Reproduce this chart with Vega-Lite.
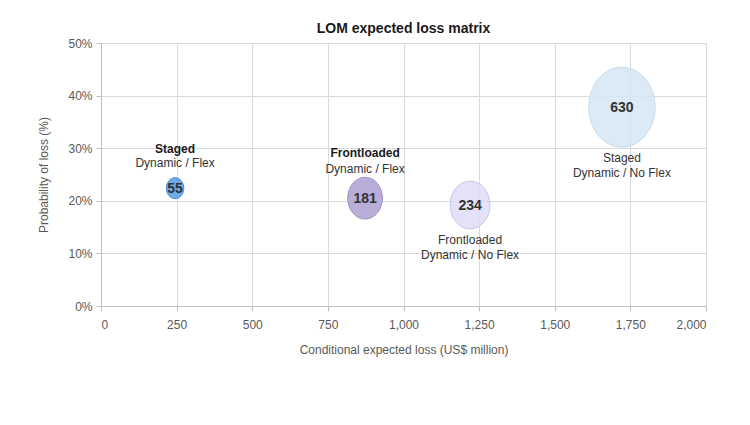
{
  "$schema": "https://vega.github.io/schema/vega-lite/v6.json",
  "width": 605,
  "height": 263,
  "autosize": {"type": "none"},
  "padding": {"left": 101, "top": 43, "right": 44, "bottom": 119},
  "background": "white",
  "config": {
    "font": "Liberation Sans",
    "view": {"stroke": null},
    "text": {"font": "Liberation Sans"}
  },
  "title": {
    "text": "LOM expected loss matrix",
    "fontSize": 14,
    "fontWeight": "bold",
    "color": "#1a1a1a",
    "font": "Liberation Sans",
    "anchor": "middle",
    "offset": 9,
    "dy": 8
  },
  "data": {
    "values": [
      {"strategy": "Staged", "variant": "Dynamic / Flex", "loss": 245, "prob": 0.224, "value": 55, "id": "Staged Dynamic / Flex"},
      {"strategy": "Frontloaded", "variant": "Dynamic / Flex", "loss": 873, "prob": 0.205, "value": 181, "id": "Frontloaded Dynamic / Flex"},
      {"strategy": "Frontloaded", "variant": "Dynamic / No Flex", "loss": 1220, "prob": 0.192, "value": 234, "id": "Frontloaded Dynamic / No Flex"},
      {"strategy": "Staged", "variant": "Dynamic / No Flex", "loss": 1722, "prob": 0.378, "value": 630, "id": "Staged Dynamic / No Flex"}
    ]
  },
  "encoding": {
    "x": {
      "field": "loss",
      "type": "quantitative",
      "scale": {"domain": [0, 2000], "nice": false},
      "axis": {
        "title": "Conditional expected loss (US$ million)",
        "values": [0, 250, 500, 750, 1000, 1250, 1500, 1750, 2000],
        "format": ",.0f",
        "labelFontSize": 12,
        "labelColor": "#595959",
        "labelFont": "Liberation Sans",
        "labelPadding": 8,
        "tickSize": 5,
        "tickColor": "#bfbfbf",
        "domainColor": "#bfbfbf",
        "gridColor": "#d9d9d9",
        "titleFontSize": 12,
        "titleFontWeight": "normal",
        "titleColor": "#595959",
        "titleFont": "Liberation Sans",
        "titleY": 43,
        "titleBaseline": "middle"
      }
    },
    "y": {
      "field": "prob",
      "type": "quantitative",
      "scale": {"domain": [0, 0.5], "nice": false},
      "axis": {
        "title": "Probability of loss (%)",
        "values": [0, 0.1, 0.2, 0.3, 0.4, 0.5],
        "format": ".0%",
        "labelFontSize": 12,
        "labelColor": "#595959",
        "labelFont": "Liberation Sans",
        "labelPadding": 4,
        "tickSize": 5,
        "tickColor": "#bfbfbf",
        "domainColor": "#bfbfbf",
        "gridColor": "#d9d9d9",
        "titleFontSize": 12,
        "titleFontWeight": "normal",
        "titleColor": "#595959",
        "titleFont": "Liberation Sans",
        "titleX": -58,
        "titleY": 131.5,
        "titleAlign": "center",
        "titleBaseline": "middle"
      }
    }
  },
  "layer": [
    {
      "mark": {
        "type": "point",
        "filled": true,
        "shape": "M 0 -1 C 0.458 -1 0.83 -0.552 0.83 0 C 0.83 0.552 0.458 1 0 1 C -0.458 1 -0.83 0.552 -0.83 0 C -0.83 -0.552 -0.458 -1 0 -1 Z",
        "opacity": 1,
        "fillOpacity": 0.85,
        "strokeOpacity": 1,
        "strokeWidth": 1
      },
      "encoding": {
        "size": {"field": "value", "type": "quantitative", "scale": {"domain": [55, 630], "range": [441, 6400], "zero": false}, "legend": null},
        "color": {
          "field": "id",
          "type": "nominal",
          "scale": {
            "domain": ["Staged Dynamic / Flex", "Frontloaded Dynamic / Flex", "Frontloaded Dynamic / No Flex", "Staged Dynamic / No Flex"],
            "range": ["#559be0", "#ad9fd2", "#e0dcf8", "#d6e6f5"]
          },
          "legend": null
        },
        "stroke": {
          "field": "id",
          "type": "nominal",
          "scale": {
            "domain": ["Staged Dynamic / Flex", "Frontloaded Dynamic / Flex", "Frontloaded Dynamic / No Flex", "Staged Dynamic / No Flex"],
            "range": ["#4a8cce", "#a193c8", "#cbc4ec", "#c6dbef"]
          },
          "legend": null
        }
      }
    },
    {
      "mark": {"type": "text", "fontSize": 14, "fontWeight": "bold", "color": "#333333", "baseline": "middle", "align": "center", "dy": 1},
      "encoding": {"text": {"field": "value", "type": "quantitative"}}
    },
    {
      "transform": [{"filter": "datum.value == 55"}],
      "mark": {"type": "text", "fontSize": 12, "fontWeight": "bold", "color": "#1a1a1a", "baseline": "middle", "align": "center", "dy": -39},
      "encoding": {"text": {"field": "strategy"}}
    },
    {
      "transform": [{"filter": "datum.value == 55"}],
      "mark": {"type": "text", "fontSize": 12, "color": "#333333", "baseline": "middle", "align": "center", "dy": -25},
      "encoding": {"text": {"field": "variant"}}
    },
    {
      "transform": [{"filter": "datum.value == 181"}],
      "mark": {"type": "text", "fontSize": 12, "fontWeight": "bold", "color": "#1a1a1a", "baseline": "middle", "align": "center", "dy": -45},
      "encoding": {"text": {"field": "strategy"}}
    },
    {
      "transform": [{"filter": "datum.value == 181"}],
      "mark": {"type": "text", "fontSize": 12, "color": "#333333", "baseline": "middle", "align": "center", "dy": -29},
      "encoding": {"text": {"field": "variant"}}
    },
    {
      "transform": [{"filter": "datum.value == 234"}],
      "mark": {"type": "text", "fontSize": 12, "color": "#333333", "baseline": "middle", "align": "center", "dy": 35},
      "encoding": {"text": {"field": "strategy"}}
    },
    {
      "transform": [{"filter": "datum.value == 234"}],
      "mark": {"type": "text", "fontSize": 12, "color": "#333333", "baseline": "middle", "align": "center", "dy": 50},
      "encoding": {"text": {"field": "variant"}}
    },
    {
      "transform": [{"filter": "datum.value == 630"}],
      "mark": {"type": "text", "fontSize": 12, "color": "#333333", "baseline": "middle", "align": "center", "dy": 51},
      "encoding": {"text": {"field": "strategy"}}
    },
    {
      "transform": [{"filter": "datum.value == 630"}],
      "mark": {"type": "text", "fontSize": 12, "color": "#333333", "baseline": "middle", "align": "center", "dy": 66},
      "encoding": {"text": {"field": "variant"}}
    }
  ]
}
